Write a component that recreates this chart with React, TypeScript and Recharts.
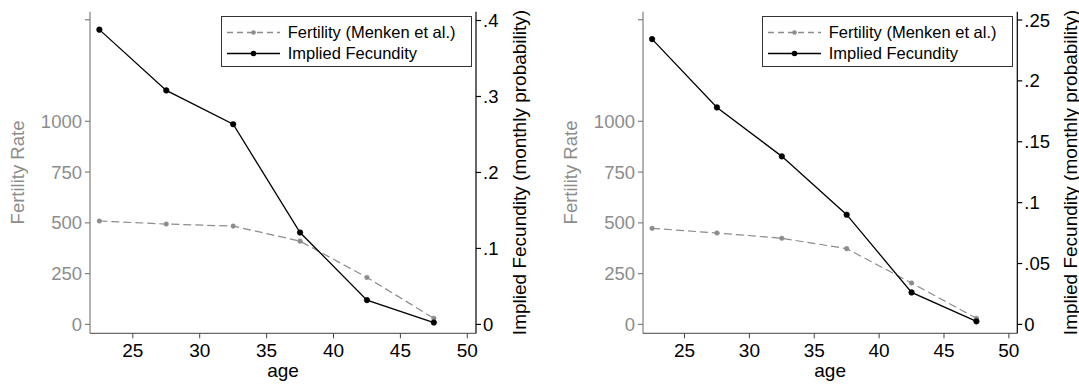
import React from 'react'
import { LineChart, Line, XAxis, YAxis, Legend, Label } from 'recharts'

// age groups (midpoints of 5-year bands)
const AGE = [22.5, 27.5, 32.5, 37.5, 42.5, 47.5]

// left panel
const FERTILITY_A = [509, 494, 484, 410, 231, 30]
const FECUNDITY_A = [0.388, 0.308, 0.2635, 0.121, 0.032, 0.0025]

// right panel
const FERTILITY_B = [473, 450, 424, 373, 204, 30]
const FECUNDITY_B = [0.2343, 0.1782, 0.138, 0.0901, 0.0263, 0.0025]

const AGE_TICKS = [25, 30, 35, 40, 45, 50]
const FERTILITY_TICKS = [0, 250, 500, 750, 1000, 1500]
const FERTILITY_LABELED = [0, 250, 500, 750, 1000]
const FECUNDITY_TICKS_A = [0, 0.1, 0.2, 0.3, 0.4]
const FECUNDITY_TICKS_B = [0, 0.05, 0.1, 0.15, 0.2, 0.25]

const GRAY = '#8c8c8c'
const FONT = '"Liberation Sans", Arial, Helvetica, sans-serif'

const fmtProb = (v: number) => (v === 0 ? '0' : String(v).replace(/^0/, ''))
const fmtRate = (v: number) => (FERTILITY_LABELED.includes(v) ? String(v) : '')

function LegendBox() {
  const row = (top: number, color: string, dash: string | undefined, r: number, text: string) => (
    <div style={{ position: 'absolute', left: 0, top, height: 21, width: '100%' }}>
      <svg width={60} height={21} style={{ position: 'absolute', left: 4, top: 0 }}>
        <line x1={1} y1={10.5} x2={54} y2={10.5} stroke={color} strokeWidth={1.3} strokeDasharray={dash} />
        <circle cx={27.5} cy={10.5} r={r} fill={color} />
      </svg>
      <div style={{ position: 'absolute', left: 66, top: 0, lineHeight: '21px', fontSize: 16.5, whiteSpace: 'nowrap', color: '#000' }}>
        {text}
      </div>
    </div>
  )
  return (
    <div
      style={{
        position: 'relative',
        width: 251,
        height: 51,
        boxSizing: 'border-box',
        border: '1px solid #333',
        background: '#fff',
        fontFamily: FONT,
      }}
    >
      {row(5, GRAY, '6 4', 2.3, 'Fertility (Menken et al.)')}
      {row(26, '#000', undefined, 2.8, 'Implied Fecundity')}
    </div>
  )
}

interface PanelProps {
  fertility: number[]
  fecundity: number[]
  fecTicks: number[]
  fecDomain: [number, number]
  width: number
  leftWidth: number
  rightWidth: number
  leftTitleX: number
  rightTitleX: number
  legendLeft: number
}

function Panel(p: PanelProps) {
  const data = AGE.map((age, i) => ({ age, fertility: p.fertility[i], fecundity: p.fecundity[i] }))
  const plotCenter = (p.leftWidth + (p.width - p.rightWidth)) / 2
  return (
    <LineChart width={p.width} height={387} data={data} margin={{ top: 11.7, right: 0, bottom: 0, left: 0 }}>
      <XAxis
        dataKey="age"
        type="number"
        domain={[21.8, 50.65]}
        allowDataOverflow
        ticks={AGE_TICKS}
        height={53.7}
        tickSize={5}
        tickMargin={5}
        stroke="#444"
        tick={{ fill: '#000', fontSize: 19 }}
      >
        <Label
          content={() => (
            <text x={plotCenter} y={377} textAnchor="middle" fontSize={19} fill="#000">
              age
            </text>
          )}
        />
      </XAxis>
      <YAxis
        yAxisId="left"
        orientation="left"
        domain={[-43.8, 1539.6]}
        allowDataOverflow
        ticks={FERTILITY_TICKS}
        tickFormatter={fmtRate}
        width={p.leftWidth}
        tickSize={5}
        tickMargin={3}
        stroke="#808080"
        strokeWidth={1.2}
        tick={{ fill: GRAY, fontSize: 18.5 }}
      >
        <Label
          content={() => (
            <text
              x={p.leftTitleX}
              y={172.5}
              transform={`rotate(-90 ${p.leftTitleX} 172.5)`}
              textAnchor="middle"
              dominantBaseline="central"
              fontSize={18.5}
              fill={GRAY}
            >
              Fertility Rate
            </text>
          )}
        />
      </YAxis>
      <YAxis
        yAxisId="right"
        orientation="right"
        domain={p.fecDomain}
        allowDataOverflow
        ticks={p.fecTicks}
        tickFormatter={fmtProb}
        width={p.rightWidth}
        tickSize={5}
        tickMargin={2}
        stroke="#000"
        strokeWidth={1.2}
        tick={{ fill: '#000', fontSize: 18.5, textAnchor: 'start' }}
      >
        <Label
          content={() => (
            <text
              x={p.rightTitleX}
              y={172.5}
              transform={`rotate(-90 ${p.rightTitleX} 172.5)`}
              textAnchor="middle"
              dominantBaseline="central"
              fontSize={19}
              fill="#000"
            >
              Implied Fecundity (monthly probability)
            </text>
          )}
        />
      </YAxis>
      <Legend
        layout="vertical"
        align="center"
        verticalAlign="middle"
        wrapperStyle={{ left: p.legendLeft, top: 16, width: 251, height: 51 }}
        content={() => <LegendBox />}
      />
      <Line
        yAxisId="left"
        dataKey="fertility"
        name="Fertility (Menken et al.)"
        type="linear"
        stroke={GRAY}
        strokeWidth={1.2}
        strokeDasharray="8 4"
        dot={{ r: 2.3, fill: GRAY, stroke: GRAY, strokeWidth: 0.5, strokeDasharray: '' }}
        isAnimationActive={false}
      />
      <Line
        yAxisId="right"
        dataKey="fecundity"
        name="Implied Fecundity"
        type="linear"
        stroke="#000"
        strokeWidth={1.3}
        dot={{ r: 2.8, fill: '#000', stroke: '#000', strokeWidth: 0.5 }}
        isAnimationActive={false}
      />
    </LineChart>
  )
}

export default function App() {
  return (
    <div
      style={{
        position: 'absolute',
        left: 0,
        top: 0,
        width: 1079,
        height: 387,
        background: '#fff',
        fontFamily: FONT,
        overflow: 'hidden',
      }}
    >
      <div style={{ position: 'absolute', left: 0, top: 0 }}>
        <Panel
          fertility={FERTILITY_A}
          fecundity={FECUNDITY_A}
          fecTicks={FECUNDITY_TICKS_A}
          fecDomain={[-0.0117, 0.4116]}
          width={539}
          leftWidth={90}
          rightWidth={63}
          leftTitleX={17}
          rightTitleX={519}
          legendLeft={220.7}
        />
      </div>
      <div style={{ position: 'absolute', left: 539, top: 0 }}>
        <Panel
          fertility={FERTILITY_B}
          fecundity={FECUNDITY_B}
          fecTicks={FECUNDITY_TICKS_B}
          fecDomain={[-0.0073, 0.2568]}
          width={540}
          leftWidth={104}
          rightWidth={61.7}
          leftTitleX={31.7}
          rightTitleX={531}
          legendLeft={222.7}
        />
      </div>
    </div>
  )
}
